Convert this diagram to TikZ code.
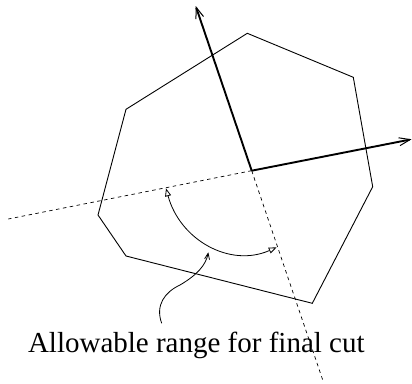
\documentclass[tikz,border=0pt]{standalone}
\usepackage{fontspec}
\setmainfont{Liberation Serif}
\usetikzlibrary{arrows.meta}
\begin{document}
\begin{tikzpicture}[x=1pt,y=-1pt,
  poly/.style={line width=0.9pt},
  axis/.style={line width=1.9pt,-{Straight Barb[length=11pt,width=8pt,line width=1pt]}},
  cutline/.style={line width=0.7pt,dash pattern=on 3.5pt off 3.5pt},
  rangearc/.style={line width=0.8pt,{Triangle[open,length=8pt,width=6pt]}-{Triangle[open,length=8pt,width=6pt]}},
  pointer/.style={line width=0.8pt,-{Straight Barb[length=6pt,width=5pt]}},
  label/.style={font=\fontsize{29}{31}\selectfont,inner sep=0pt,anchor=base}]
\useasboundingbox (0,0) rectangle (412,383);
\coordinate (p1) at (247.3,33.3);
\coordinate (p2) at (353.3,77.3);
\coordinate (p3) at (372.7,186.7);
\coordinate (p4) at (312.3,303.3);
\coordinate (p5) at (126,256);
\coordinate (p6) at (98,215);
\coordinate (p7) at (126,109.3);
\coordinate (c) at (251.7,170.7);
\coordinate (up) at (195.7,6);
\coordinate (right) at (411.5,139.3);
\coordinate (dl) at (8.3,219);
\coordinate (dd) at (323.3,381.7);
\coordinate (a1) at (166,188.3);
\coordinate (a2) at (276.7,247.3);
\coordinate (q0) at (161.7,323.3);
\coordinate (q1) at (208.3,252.3);
\draw[poly] (p1) -- (p2) -- (p3) -- (p4) -- (p5) -- (p6) -- (p7) -- cycle;
\draw[cutline] (c) -- (dl);
\draw[cutline] (c) -- (dd);
\draw[axis] (c) -- (up);
\draw[axis] (c) -- (right);
\draw[rangearc] (a1) .. controls (180,240) and (230,268) .. (a2);
\draw[pointer] (q0) .. controls (155,305) and (165,292) .. (180,285) .. controls (197,275) and (206,265) .. (q1);
\node[label] (txt) at (196.3,352) {Allowable range for final cut};
\end{tikzpicture}
\end{document}
